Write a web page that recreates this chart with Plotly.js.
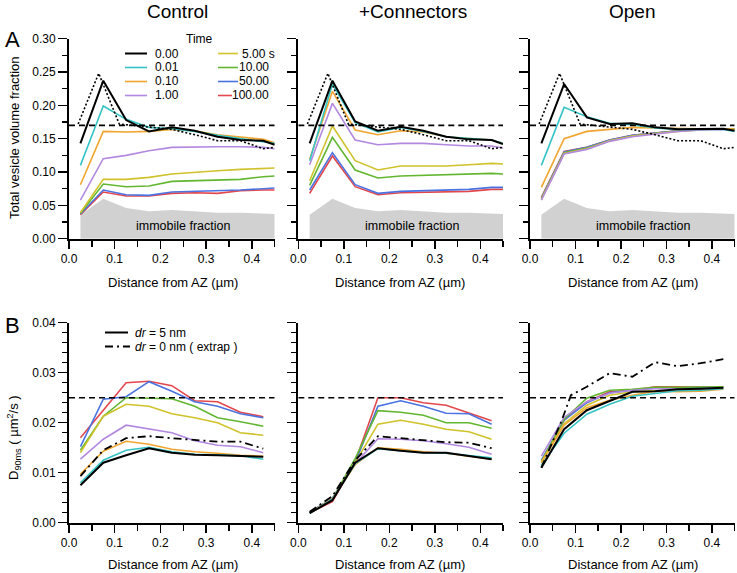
<!DOCTYPE html>
<html>
<head>
<meta charset="utf-8">
<script src="https://cdn.plot.ly/plotly-3.0.1.min.js"></script>
<style>
  html, body { margin: 0; padding: 0; background: #fff; }
  #chart { width: 737px; height: 573px; }
</style>
</head>
<body>
<div id="chart"></div>
<script>
// time points (s) and their colours
const times = ["0.00", "0.01", "0.10", "1.00", "5.00", "10.00", "50.00", "100.00"]
const colors = ["#000000", "#35c4c6", "#f2a52e", "#b388e0", "#cfc22a", "#62b630", "#4a72e0", "#e3474c"]

// distance bins (um)
const xTop = [0.025, 0.075, 0.125, 0.175, 0.225, 0.275, 0.325, 0.375, 0.425, 0.45]
const xDot = [0.02, 0.065, 0.11, 0.175, 0.225, 0.275, 0.325, 0.375, 0.425, 0.45]
const xBot = [0.025, 0.075, 0.125, 0.175, 0.225, 0.275, 0.325, 0.375, 0.425]
const xExtrapOpen = [0.025, 0.07, 0.09, 0.125, 0.175, 0.225, 0.275, 0.325, 0.375, 0.425]

// A: total vesicle volume fraction, one row per time point
const volControl = [
  [0.143, 0.237, 0.178, 0.161, 0.167, 0.162, 0.153, 0.148, 0.147, 0.141],
  [0.110, 0.199, 0.179, 0.167, 0.165, 0.161, 0.155, 0.150, 0.146, 0.143],
  [0.081, 0.161, 0.160, 0.161, 0.164, 0.162, 0.156, 0.152, 0.149, 0.144],
  [0.058, 0.120, 0.125, 0.132, 0.137, 0.138, 0.138, 0.138, 0.137, 0.135],
  [0.039, 0.089, 0.089, 0.092, 0.097, 0.100, 0.102, 0.104, 0.106, 0.106],
  [0.038, 0.082, 0.078, 0.079, 0.086, 0.087, 0.089, 0.089, 0.093, 0.094],
  [0.037, 0.073, 0.066, 0.065, 0.070, 0.071, 0.071, 0.073, 0.075, 0.076],
  [0.036, 0.070, 0.064, 0.064, 0.068, 0.069, 0.068, 0.072, 0.073, 0.073]
]
const volConnectors = [
  [0.143, 0.237, 0.176, 0.162, 0.168, 0.162, 0.153, 0.149, 0.148, 0.142],
  [0.117, 0.232, 0.174, 0.160, 0.167, 0.161, 0.153, 0.150, 0.148, 0.143],
  [0.119, 0.221, 0.163, 0.156, 0.162, 0.160, 0.153, 0.150, 0.148, 0.143],
  [0.111, 0.203, 0.148, 0.141, 0.143, 0.143, 0.141, 0.139, 0.139, 0.136],
  [0.087, 0.169, 0.117, 0.103, 0.109, 0.109, 0.109, 0.111, 0.113, 0.112],
  [0.080, 0.152, 0.103, 0.091, 0.094, 0.095, 0.096, 0.097, 0.098, 0.097],
  [0.073, 0.129, 0.081, 0.068, 0.071, 0.072, 0.072, 0.074, 0.077, 0.077],
  [0.068, 0.124, 0.078, 0.066, 0.069, 0.070, 0.070, 0.071, 0.074, 0.074]
]
const volOpen = [
  [0.143, 0.232, 0.182, 0.172, 0.173, 0.167, 0.164, 0.165, 0.165, 0.162],
  [0.110, 0.197, 0.183, 0.173, 0.171, 0.166, 0.164, 0.164, 0.164, 0.161],
  [0.077, 0.150, 0.161, 0.164, 0.167, 0.166, 0.165, 0.165, 0.165, 0.164],
  [0.058, 0.127, 0.134, 0.146, 0.153, 0.157, 0.161, 0.163, 0.164, 0.163],
  [0.059, 0.128, 0.135, 0.147, 0.154, 0.158, 0.161, 0.163, 0.165, 0.164],
  [0.060, 0.129, 0.136, 0.147, 0.154, 0.158, 0.162, 0.164, 0.165, 0.164],
  [0.061, 0.130, 0.137, 0.148, 0.155, 0.159, 0.162, 0.164, 0.165, 0.164],
  [0.062, 0.131, 0.137, 0.148, 0.155, 0.159, 0.162, 0.164, 0.165, 0.164]
]
const volDotted = [0.172, 0.248, 0.172, 0.167, 0.164, 0.156, 0.147, 0.147, 0.135, 0.137]
const immobile = [0.036, 0.060, 0.046, 0.041, 0.043, 0.041, 0.039, 0.039, 0.038, 0.037]
const volLevel = 0.17

// B: D_90ms (um^2/s), dr = 5 nm, one row per time point, plus dr = 0 extrapolation
const dControl = [
  [0.0075, 0.0120, 0.0135, 0.0149, 0.0140, 0.0136, 0.0135, 0.0134, 0.0132],
  [0.0080, 0.0125, 0.0145, 0.0151, 0.0142, 0.0137, 0.0136, 0.0134, 0.0127],
  [0.0097, 0.0143, 0.0163, 0.0157, 0.0147, 0.0142, 0.0139, 0.0135, 0.0133],
  [0.0127, 0.0167, 0.0195, 0.0187, 0.0180, 0.0164, 0.0155, 0.0152, 0.0140],
  [0.0140, 0.0213, 0.0237, 0.0233, 0.0218, 0.0210, 0.0200, 0.0180, 0.0175],
  [0.0145, 0.0213, 0.0250, 0.0249, 0.0248, 0.0233, 0.0210, 0.0202, 0.0193],
  [0.0152, 0.0247, 0.0252, 0.0282, 0.0263, 0.0242, 0.0233, 0.0218, 0.0210],
  [0.0170, 0.0225, 0.0280, 0.0283, 0.0274, 0.0244, 0.0242, 0.0221, 0.0212]
]
const dConnectors = [
  [0.0019, 0.0045, 0.0120, 0.0149, 0.0144, 0.0140, 0.0140, 0.0134, 0.0127],
  [0.0019, 0.0047, 0.0118, 0.0148, 0.0144, 0.0140, 0.0139, 0.0135, 0.0130],
  [0.0020, 0.0048, 0.0116, 0.0150, 0.0147, 0.0142, 0.0139, 0.0133, 0.0127],
  [0.0020, 0.0048, 0.0118, 0.0168, 0.0167, 0.0164, 0.0158, 0.0151, 0.0137],
  [0.0019, 0.0046, 0.0120, 0.0197, 0.0205, 0.0197, 0.0187, 0.0182, 0.0167],
  [0.0020, 0.0048, 0.0128, 0.0224, 0.0221, 0.0215, 0.0200, 0.0200, 0.0189],
  [0.0021, 0.0049, 0.0120, 0.0233, 0.0244, 0.0233, 0.0219, 0.0218, 0.0197],
  [0.0020, 0.0042, 0.0122, 0.0250, 0.0250, 0.0240, 0.0235, 0.0219, 0.0204]
]
const dOpen = [
  [0.0110, 0.0187, 0.0225, 0.0243, 0.0262, 0.0263, 0.0267, 0.0268, 0.0270],
  [0.0115, 0.0179, 0.0217, 0.0237, 0.0253, 0.0258, 0.0264, 0.0265, 0.0268],
  [0.0119, 0.0195, 0.0230, 0.0245, 0.0255, 0.0263, 0.0262, 0.0263, 0.0267],
  [0.0133, 0.0211, 0.0242, 0.0259, 0.0265, 0.0268, 0.0268, 0.0268, 0.0270],
  [0.0122, 0.0198, 0.0235, 0.0255, 0.0262, 0.0264, 0.0263, 0.0265, 0.0268],
  [0.0122, 0.0207, 0.0249, 0.0265, 0.0267, 0.0271, 0.0271, 0.0271, 0.0272],
  [0.0125, 0.0205, 0.0240, 0.0260, 0.0265, 0.0270, 0.0270, 0.0270, 0.0271],
  [0.0122, 0.0205, 0.0242, 0.0262, 0.0265, 0.0272, 0.0272, 0.0272, 0.0271]
]
const extrapControl = [0.0093, 0.0145, 0.0169, 0.0173, 0.0169, 0.0165, 0.0162, 0.0162, 0.0148]
const extrapConnectors = [0.0022, 0.0053, 0.0125, 0.0173, 0.0169, 0.0165, 0.0161, 0.0160, 0.0149]
const extrapOpen = [0.0110, 0.0205, 0.0255, 0.0272, 0.0299, 0.0292, 0.0321, 0.0313, 0.0319, 0.0327]
const dLevel = 0.025

const panelTitles = ["Control", "+Connectors", "Open"]

// ---- layout helpers (pixel -> paper)
const W = 737, H = 573
const px = x => x / W
const py = y => 1 - y / H
const FONT = "Liberation Sans, Arial, sans-serif"

const colPx = [[69, 274.7], [298.3, 503], [530, 734.7]]
const topPx = [38.7, 238.7]
const botPx = [322.7, 522.7]

const makeX = (col, anchor) => ({
  domain: [px(colPx[col][0]), px(colPx[col][1])], anchor,
  range: [0, 0.45], showgrid: false, zeroline: false,
  showline: true, linewidth: 2, linecolor: "#000",
  ticks: "outside", ticklen: 8, tickwidth: 1.5, tickcolor: "#000",
  tickvals: [0, 0.1, 0.2, 0.3, 0.4], tickformat: ".1f",
  tickfont: {size: 12, color: "#000"},
  minor: {tickvals: [0.05, 0.15, 0.25, 0.35, 0.45], ticks: "outside", ticklen: 6, tickwidth: 1.5, tickcolor: "#000", showgrid: false}
})

const makeY = (rowPx, anchor, range, major, minor, labels) => ({
  domain: [py(rowPx[1]), py(rowPx[0])], anchor,
  range, showgrid: false, zeroline: false,
  showline: true, linewidth: 2, linecolor: "#000",
  ticks: "outside", ticklen: 9, tickwidth: 1.5, tickcolor: "#000",
  tickvals: major, tickformat: ".2f", showticklabels: labels,
  tickfont: {size: 12, color: "#000"},
  minor: {tickvals: minor, ticks: "outside", ticklen: 5, tickwidth: 1.5, tickcolor: "#000", showgrid: false}
})

const topMajor = [0, 0.05, 0.1, 0.15, 0.2, 0.25, 0.3]
const topMinor = [0.025, 0.075, 0.125, 0.175, 0.225, 0.275]
const botMajor = [0, 0.01, 0.02, 0.03, 0.04]
const botMinor = []
for (let v = 0.002; v < 0.04; v += 0.002) if (Math.abs(v * 100 - Math.round(v * 100)) > 1e-6) botMinor.push(+v.toFixed(3))

const traces = []
const line = (x, y, xa, ya, color, width, dash) => ({
  x, y, xaxis: xa, yaxis: ya, type: "scatter", mode: "lines", hoverinfo: "skip",
  showlegend: false, line: {color, width, dash: dash || "solid"}
})

// ---- A panels
const volSets = [volControl, volConnectors, volOpen]
volSets.forEach((set, c) => {
  const xa = c === 0 ? "x" : "x" + (c + 1)
  const ya = c === 0 ? "y" : "y" + (c + 1)
  traces.push({x: xTop, y: immobile, xaxis: xa, yaxis: ya, type: "scatter", mode: "lines",
    fill: "tozeroy", fillcolor: "#d1d1d1", line: {width: 0, color: "#d1d1d1"}, hoverinfo: "skip", showlegend: false})
  for (let i = set.length - 1; i >= 0; i--) traces.push(line(xTop, set[i], xa, ya, colors[i], i === 0 ? 2 : 1.6))
  traces.push(line(xDot, volDotted, xa, ya, "#000", 1.6, "2px,2px"))
  traces.push(line([0, 0.45], [volLevel, volLevel], xa, ya, "#000", 1.6, "6px,4px"))
})

// ---- B panels
const dSets = [dControl, dConnectors, dOpen]
const extrapSets = [[xBot, extrapControl], [xBot, extrapConnectors], [xExtrapOpen, extrapOpen]]
dSets.forEach((set, c) => {
  const xa = "x" + (c + 4)
  const ya = "y" + (c + 4)
  for (let i = set.length - 1; i >= 1; i--) traces.push(line(xBot, set[i], xa, ya, colors[i], 1.6))
  traces.push(line(extrapSets[c][0], extrapSets[c][1], xa, ya, "#000", 1.8, "8px,4px,2px,4px"))
  traces.push(line(xBot, set[0], xa, ya, "#000", 2))
  traces.push(line([0, 0.45], [dLevel, dLevel], xa, ya, "#000", 1.6, "6px,4px"))
})

// ---- annotations and legend shapes
const ann = []
const shapes = []
const text = (x, y, t, opts = {}) => ann.push(Object.assign({
  xref: "paper", yref: "paper", x: px(x), y: py(y), text: t, showarrow: false,
  xanchor: "center", yanchor: "middle", font: {family: FONT, size: 12, color: "#000"}
}, opts))

const titleX = [177, 413, 632]
panelTitles.forEach((t, c) => text(titleX[c], 11, t, {font: {family: FONT, size: 19, color: "#000"}}))
text(3, 39, "A", {xanchor: "left", font: {family: FONT, size: 22, color: "#000"}})
text(3, 325, "B", {xanchor: "left", font: {family: FONT, size: 22, color: "#000"}})

const axisTitleX = [172.5, 400, 632.5]
axisTitleX.forEach(x => {
  text(x, 283, "Distance from AZ (\u00b5m)", {font: {family: FONT, size: 13, color: "#000"}})
  text(x, 564, "Distance from AZ (\u00b5m)", {font: {family: FONT, size: 13, color: "#000"}})
})
text(14, 138, "Total vesicle volume fraction", {textangle: -90, font: {family: FONT, size: 13, color: "#000"}})
text(14, 438, "D<sub>90ms</sub> ( \u00b5m<sup>2</sup>/s )", {textangle: -90, font: {family: FONT, size: 13, color: "#000"}})

// immobile fraction labels in data coords
;["x", "x2", "x3"].forEach((xa, c) => ann.push({
  xref: xa, yref: c === 0 ? "y" : "y" + (c + 1), x: 0.25, y: 0.019, text: "immobile fraction",
  showarrow: false, font: {family: FONT, size: 12.5, color: "#000"}
}))

// Time legend (two columns)
text(199, 39, "Time")
times.forEach((t, i) => {
  const col = i < 4 ? 0 : 1
  const row = i % 4
  const y = 53.5 + row * 14
  const x0 = col === 0 ? 125 : 218
  const x1 = col === 0 ? 147 : (t === "100.00" ? 232 : 238)
  shapes.push({type: "line", xref: "paper", yref: "paper", x0: px(x0), x1: px(x1), y0: py(y), y1: py(y),
    line: {color: colors[i], width: i === 0 ? 2 : 1.6}})
  if (col === 0) text(152.5, y, t, {xanchor: "left"})
  else if (t === "5.00") text(277, y, t + " s", {xanchor: "right"})
  else text(271, y, t, {xanchor: "right"})
})

// dr legend
shapes.push({type: "line", xref: "paper", yref: "paper", x0: px(105), x1: px(128), y0: py(332.5), y1: py(332.5), line: {color: "#000", width: 2}})
shapes.push({type: "line", xref: "paper", yref: "paper", x0: px(105), x1: px(130), y0: py(346.5), y1: py(346.5), line: {color: "#000", width: 1.8, dash: "8px,4px,2px,4px"}})
text(133, 332.5, "<i>dr</i> = 5 nm", {xanchor: "left"})
text(133, 346.5, "<i>dr</i> = 0 nm ( extrap )", {xanchor: "left"})

const layout = {
  width: W, height: H,
  margin: {l: 0, r: 0, t: 0, b: 0},
  paper_bgcolor: "#fff", plot_bgcolor: "rgba(0,0,0,0)",
  font: {family: FONT, size: 12, color: "#000"},
  showlegend: false,
  xaxis: makeX(0, "y"), xaxis2: makeX(1, "y2"), xaxis3: makeX(2, "y3"),
  xaxis4: makeX(0, "y4"), xaxis5: makeX(1, "y5"), xaxis6: makeX(2, "y6"),
  yaxis: makeY(topPx, "x", [0, 0.3], topMajor, topMinor, true),
  yaxis2: makeY(topPx, "x2", [0, 0.3], topMajor, topMinor, false),
  yaxis3: makeY(topPx, "x3", [0, 0.3], topMajor, topMinor, false),
  yaxis4: makeY(botPx, "x4", [0, 0.04], botMajor, botMinor, true),
  yaxis5: makeY(botPx, "x5", [0, 0.04], botMajor, botMinor, false),
  yaxis6: makeY(botPx, "x6", [0, 0.04], botMajor, botMinor, false),
  annotations: ann,
  shapes
}

Plotly.newPlot("chart", traces, layout, {staticPlot: true, displayModeBar: false})
</script>
</body>
</html>
